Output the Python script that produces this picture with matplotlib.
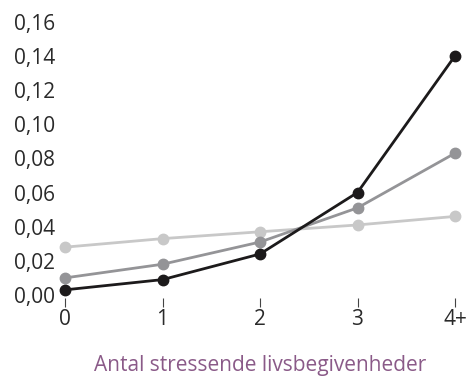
import matplotlib.pyplot as plt
import numpy as np

plt.rcParams['font.family'] = ['Open Sans', 'DejaVu Sans']

categories = ['0', '1', '2', '3', '4+']
black_vals = [0.003, 0.009, 0.024, 0.060, 0.140]
mid_vals = [0.010, 0.018, 0.031, 0.051, 0.083]
light_vals = [0.028, 0.033, 0.037, 0.041, 0.046]
yticks = [0.0, 0.02, 0.04, 0.06, 0.08, 0.10, 0.12, 0.14, 0.16]

fig = plt.figure(figsize=(4.67, 3.78), dpi=100)
ax = fig.add_axes([65/467, 1-298.4/378, 390/467, (298.4-21.7)/378])

x = np.arange(len(categories))
for vals, col in [(light_vals, '#c8c8c8'), (mid_vals, '#949497'), (black_vals, '#1c1a1b')]:
    ax.plot(x, vals, color=col, lw=2, marker='o', ms=7.5, clip_on=False, zorder=3)

ax.set_xlim(0, 4)
ax.set_ylim(-0.002, 0.16)
ax.set_xticks(x)
ax.set_xticklabels(categories)
ax.set_yticks(yticks)
ax.set_yticklabels([f'{v:.2f}'.replace('.', ',') for v in yticks])
for s in ax.spines.values():
    s.set_visible(False)
ax.tick_params(axis='y', length=0, pad=7, labelsize=15, labelcolor='#2a2a2a')
ax.tick_params(axis='x', direction='out', length=6.5, width=0.8, color='#444444',
               pad=1, labelsize=15, labelcolor='#2a2a2a')
ax.set_xlabel('Antal stressende livsbegivenheder', fontsize=15, color='#8a5a88', labelpad=18)

fig.savefig('out.png', dpi=100)
